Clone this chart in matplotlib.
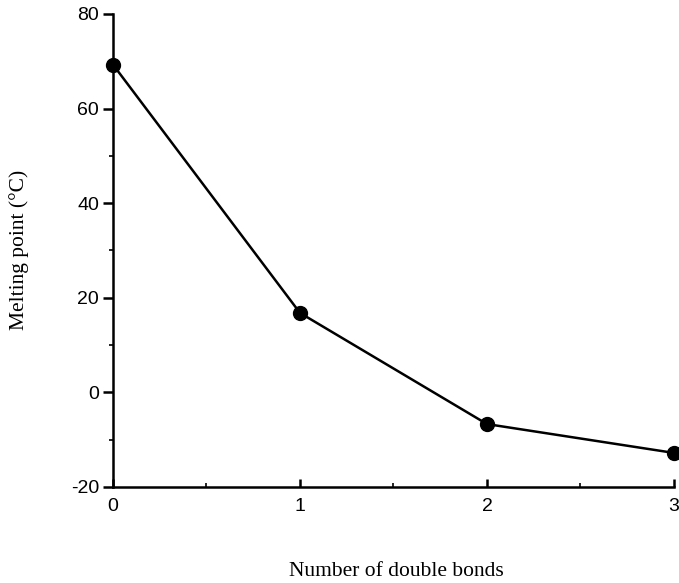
import matplotlib
matplotlib.use('Agg')
import matplotlib.pyplot as plt
from matplotlib.ticker import MultipleLocator

# number of double bonds vs melting point
bonds = [0, 1, 2, 3]
melting_point = [69.3, 16.8, -6.7, -12.8]

plt.rcParams['axes.unicode_minus'] = False

fig = plt.figure(figsize=(6.79, 5.83), dpi=100)
ax = fig.add_axes([0.1664, 0.1647, 0.8262, 0.8113])

ax.plot(bonds, melting_point, color='black', linewidth=1.8,
        marker='o', markersize=10, clip_on=False, zorder=3)

ax.set_xlim(0, 3)
ax.set_ylim(-20, 80)
ax.set_xticks(bonds)
ax.set_yticks(range(-20, 81, 20))
ax.xaxis.set_minor_locator(MultipleLocator(0.5))
ax.yaxis.set_minor_locator(MultipleLocator(10))

for side in ['top', 'right']:
    ax.spines[side].set_visible(False)
for side in ['left', 'bottom']:
    ax.spines[side].set_linewidth(1.8)

ax.tick_params(axis='y', which='major', direction='out', length=7, width=1.8,
               labelsize=14, pad=3)
ax.tick_params(axis='y', which='minor', direction='out', length=3, width=1.2)
ax.tick_params(axis='x', which='major', direction='in', length=6, width=1.8,
               labelsize=14, pad=8)
ax.tick_params(axis='x', which='minor', direction='in', length=3, width=1.2)
for lbl in ax.get_xticklabels() + ax.get_yticklabels():
    lbl.set_family('Liberation Sans')

fig.text(396 / 679, 1 - 571 / 583, 'Number of double bonds',
         family='Liberation Serif', fontsize=15.5, ha='center', va='center')
fig.text(19 / 679, 1 - 250 / 583, 'Melting point (°C)',
         family='Liberation Serif', fontsize=15.5, ha='center', va='center',
         rotation=90)

fig.savefig('out.png', dpi=100)
